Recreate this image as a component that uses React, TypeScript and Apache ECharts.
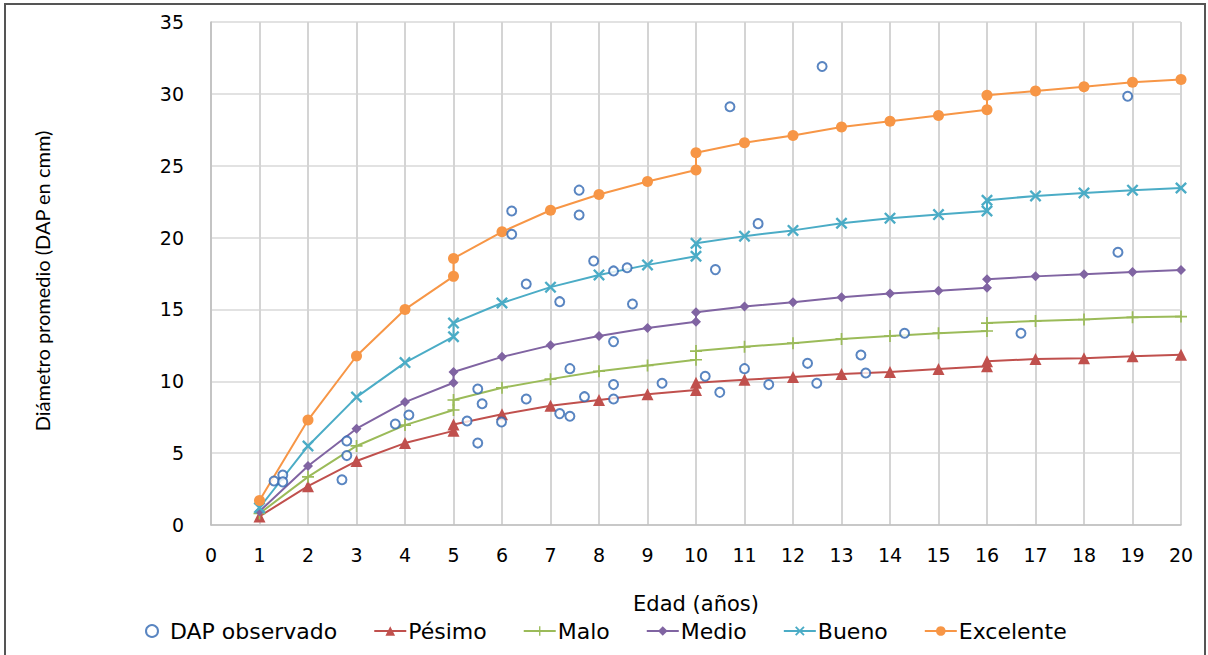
import React, { useEffect, useRef } from "react";
import * as echarts from "echarts";

// Ages (x) – duplicated ages mark the jumps between growth stages
const ages = [1, 2, 3, 4, 5, 5, 6, 7, 8, 9, 10, 10, 11, 12, 13, 14, 15, 16, 16, 17, 18, 19, 20];

const pesimo = [0.6, 2.7, 4.45, 5.7, 6.55, 7.0, 7.7, 8.3, 8.7, 9.1, 9.4, 9.9, 10.1, 10.3, 10.5, 10.65, 10.85, 11.05, 11.4, 11.55, 11.6, 11.75, 11.85];
const malo = [0.8, 3.35, 5.5, 6.95, 8.0, 8.7, 9.55, 10.15, 10.7, 11.1, 11.5, 12.1, 12.4, 12.65, 12.95, 13.15, 13.35, 13.5, 14.05, 14.2, 14.3, 14.45, 14.5];
const medio = [0.95, 4.1, 6.7, 8.55, 9.9, 10.65, 11.7, 12.5, 13.15, 13.7, 14.15, 14.8, 15.2, 15.5, 15.85, 16.1, 16.3, 16.5, 17.1, 17.3, 17.45, 17.6, 17.75];
const bueno = [1.2, 5.5, 8.9, 11.3, 13.1, 14.05, 15.45, 16.55, 17.4, 18.1, 18.7, 19.6, 20.1, 20.5, 21.0, 21.35, 21.6, 21.85, 22.6, 22.9, 23.1, 23.3, 23.45];
const excelente = [1.7, 7.3, 11.76, 15.0, 17.3, 18.55, 20.4, 21.9, 23.0, 23.9, 24.7, 25.9, 26.6, 27.1, 27.7, 28.1, 28.5, 28.9, 29.9, 30.2, 30.5, 30.8, 31.0];

// Observed DBH points
const obsX = [1.3, 1.48, 1.48, 2.7, 2.8, 2.8, 3.8, 4.08, 5.28, 5.5, 5.5, 5.59, 5.99, 6.5, 6.5, 6.2, 6.2, 7.59, 7.59, 10.7, 12.6, 7.89, 8.3, 8.58, 10.4, 7.19, 8.69, 8.3, 7.4, 8.3, 7.7, 8.3, 7.19, 7.4, 9.3, 10.19, 10.49, 11.0, 11.5, 12.3, 12.49, 13.4, 13.5, 11.28, 14.3, 16.7, 18.9, 18.7];
const obsY = [3.06, 3.48, 3.0, 3.15, 4.83, 5.85, 7.03, 7.65, 7.24, 5.7, 9.46, 8.44, 7.17, 8.77, 16.77, 21.85, 20.23, 23.3, 21.57, 29.1, 31.9, 18.37, 17.68, 17.9, 17.77, 15.54, 15.38, 12.76, 10.88, 9.77, 8.93, 8.77, 7.75, 7.57, 9.86, 10.35, 9.23, 10.88, 9.77, 11.25, 9.86, 11.83, 10.58, 20.97, 13.34, 13.34, 29.83, 18.98];

const xTicks = { min: 0, max: 20, interval: 1 };
const yTicks = { min: 0, max: 35, interval: 5 };

const X_PATH = "path://M0,1.4 L1.4,0 L5,3.6 L8.6,0 L10,1.4 L6.4,5 L10,8.6 L8.6,10 L5,6.4 L1.4,10 L0,8.6 L3.6,5 Z";
const PLUS_PATH = "path://M4.3,0 H5.7 V4.3 H10 V5.7 H5.7 V10 H4.3 V5.7 H0 V4.3 H4.3 Z";

const pairs = (ys: number[]) => ages.map((x, i) => [x, ys[i]]);

export default function App() {
  const ref = useRef<HTMLDivElement>(null);
  useEffect(() => {
    if (!ref.current) return;
    const chart = echarts.init(ref.current, undefined, { renderer: "svg" });
    const lineSeries = (name: string, ys: number[], color: string, symbol: string, size: number) => ({
      name,
      type: "line",
      data: pairs(ys),
      symbol,
      symbolSize: size,
      lineStyle: { color, width: 2 },
      itemStyle: { color },
      z: 3,
    });
    chart.setOption({
      animation: false,
      backgroundColor: "#ffffff",
      textStyle: { fontFamily: "DejaVu Sans" },
      graphic: [
        {
          type: "rect",
          shape: { x: 5, y: 4, width: 1200, height: 660 },
          style: { fill: "none", stroke: "#555555", lineWidth: 2 },
          silent: true,
        },
        {
          type: "text",
          x: 42,
          y: 281,
          rotation: Math.PI / 2,
          style: {
            text: "Diámetro promedio (DAP en cmm)",
            font: "20px Lato",
            fill: "#000000",
            textAlign: "center",
            textVerticalAlign: "middle",
          },
        },
      ],
      grid: { left: 211, right: 27, top: 22, bottom: 130, containLabel: false },
      xAxis: {
        type: "value",
        min: xTicks.min,
        max: xTicks.max,
        interval: xTicks.interval,
        name: "Edad (años)",
        nameLocation: "middle",
        nameGap: 68,
        nameTextStyle: { fontSize: 21, color: "#000", fontFamily: "DejaVu Sans" },
        axisLine: { show: true, lineStyle: { color: "#bfbfbf", width: 1.5 } },
        axisTick: { show: false },
        axisLabel: { fontSize: 19, color: "#000", margin: 20, fontFamily: "DejaVu Sans" },
        splitLine: { show: true, lineStyle: { color: "#d4d4d4", width: 2 } },
      },
      yAxis: {
        type: "value",
        min: yTicks.min,
        max: yTicks.max,
        interval: yTicks.interval,
        axisLine: { show: true, lineStyle: { color: "#bfbfbf", width: 1.5 } },
        axisTick: { show: false },
        axisLabel: { fontSize: 19, color: "#000", margin: 27, fontFamily: "DejaVu Sans" },
        splitLine: { show: true, lineStyle: { color: "#d9d9d9", width: 1.5 } },
      },
      legend: {
        data: [
          { name: "DAP observado", icon: "emptyCircle", itemStyle: { borderWidth: 1.5 } },
          "Pésimo",
          "Malo",
          "Medio",
          "Bueno",
          "Excelente",
        ],
        bottom: 8,
        left: 140,
        itemWidth: 32,
        itemHeight: 12,
        itemGap: 36,
        textStyle: { fontSize: 22, color: "#000", fontFamily: "DejaVu Sans", padding: [0, 0, 0, -3] },
      },
      series: [
        {
          name: "DAP observado",
          type: "scatter",
          data: obsX.map((x, i) => [x, obsY[i]]),
          symbol: "emptyCircle",
          symbolSize: 9,
          itemStyle: { color: "#2f67b1", borderColor: "#2f67b1", borderWidth: 2 },
          z: 4,
        },
        lineSeries("Pésimo", pesimo, "#c0504d", "triangle", 12),
        lineSeries("Malo", malo, "#9bbb59", PLUS_PATH, 12),
        lineSeries("Medio", medio, "#8064a2", "diamond", 10),
        lineSeries("Bueno", bueno, "#4bacc6", X_PATH, 12),
        lineSeries("Excelente", excelente, "#f79646", "circle", 11),
      ],
    });
    return () => chart.dispose();
  }, []);
  return <div ref={ref} style={{ position: "absolute", left: 0, top: 0, width: 1208, height: 655 }} />;
}
